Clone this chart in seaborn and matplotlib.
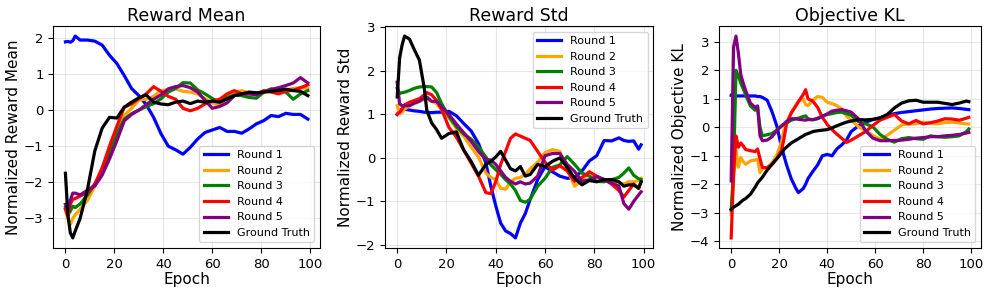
import numpy as np
import pandas as pd
import matplotlib
matplotlib.use("Agg")
import matplotlib.pyplot as plt
import seaborn as sns

series_names = ["Round 1", "Round 2", "Round 3", "Round 4", "Round 5", "Ground Truth"]
series_colors = ["blue", "orange", "green", "red", "purple", "black"]

# ---------------- Reward Mean ----------------
rm_epochs = [0, 1, 2, 3, 4, 6, 9, 12, 15, 18, 21, 24, 27, 30, 33, 36, 39, 42, 45, 48,
             51, 54, 57, 60, 63, 66, 69, 72, 75, 78, 81, 84, 87, 90, 93, 96, 99]
rm_round1 = [1.89, 1.9, 1.88, 1.92, 2.05, 1.94, 1.94, 1.91, 1.8, 1.52, 1.29, 0.96, 0.6, 0.4,
             0.15, -0.2, -0.65, -1.0, -1.1, -1.22, -1.03, -0.8, -0.62, -0.55, -0.48, -0.59,
             -0.59, -0.64, -0.52, -0.38, -0.29, -0.15, -0.18, -0.09, -0.12, -0.12, -0.25]
rm_round2 = [-2.75, -3.0, -3.17, -3.0, -2.9, -2.75, -2.5, -2.1, -1.7, -1.15, -0.55, -0.15,
             0.05, 0.28, 0.3, 0.38, 0.54, 0.56, 0.59, 0.52, 0.5, 0.45, 0.32, 0.2, 0.13, 0.35,
             0.48, 0.54, 0.47, 0.45, 0.5, 0.52, 0.54, 0.56, 0.6, 0.62, 0.6]
rm_round3 = [-2.7, -2.9, -2.8, -2.66, -2.7, -2.6, -2.35, -2.05, -1.7, -1.2, -0.65, -0.25,
             -0.1, 0.0, 0.1, 0.18, 0.31, 0.5, 0.6, 0.76, 0.75, 0.56, 0.45, 0.32, 0.22, 0.35,
             0.42, 0.4, 0.35, 0.33, 0.5, 0.59, 0.55, 0.5, 0.3, 0.45, 0.54]
rm_round4 = [-2.75, -2.94, -2.6, -2.47, -2.45, -2.38, -2.29, -2.05, -1.6, -1.0, -0.45, 0.08,
             0.17, 0.32, 0.45, 0.65, 0.52, 0.38, 0.3, 0.05, -0.02, 0.05, 0.17, 0.25, 0.3,
             0.45, 0.54, 0.45, 0.45, 0.45, 0.54, 0.5, 0.45, 0.52, 0.55, 0.62, 0.7]
rm_round5 = [-2.61, -2.8, -2.5, -2.3, -2.3, -2.35, -2.22, -2.1, -1.8, -1.35, -0.85, -0.3,
             -0.12, 0.0, 0.15, 0.3, 0.42, 0.59, 0.65, 0.68, 0.62, 0.5, 0.27, 0.05, 0.1, 0.2,
             0.4, 0.45, 0.45, 0.42, 0.5, 0.57, 0.62, 0.68, 0.75, 0.9, 0.75]
rm_truth = [-1.75, -2.9, -3.4, -3.54, -3.35, -3.0, -2.2, -1.13, -0.5, -0.2, -0.22, 0.08,
            0.22, 0.34, 0.42, 0.22, 0.17, 0.15, 0.22, 0.25, 0.18, 0.25, 0.22, 0.25, 0.22,
            0.31, 0.4, 0.45, 0.5, 0.48, 0.5, 0.52, 0.55, 0.58, 0.54, 0.52, 0.4]

# ---------------- Reward Std ----------------
rs_epochs = [0, 1, 2, 3, 5, 7, 9, 11, 12, 14, 16, 18, 21, 24, 27, 30, 33, 36, 38, 40, 42,
             44, 46, 48, 50, 52, 54, 57, 60, 63, 66, 69, 72, 75, 78, 81, 84, 87, 90, 92,
             94, 96, 98, 99]
rs_round1 = [1.0, 1.08, 1.12, 1.12, 1.1, 1.08, 1.07, 1.05, 1.05, 1.04, 1.05, 1.05, 1.07,
             0.97, 0.79, 0.62, 0.33, -0.12, -0.65, -1.1, -1.5, -1.68, -1.74, -1.84, -1.5,
             -1.28, -0.95, -0.5, -0.2, -0.32, -0.42, -0.47, -0.45, -0.3, -0.07, 0.05, 0.4,
             0.39, 0.46, 0.4, 0.38, 0.39, 0.2, 0.3]
rs_round2 = [1.2, 1.02, 1.05, 1.12, 1.2, 1.25, 1.3, 1.35, 1.35, 1.3, 1.25, 1.1, 0.92, 0.68,
             0.5, 0.25, 0.02, -0.35, -0.45, -0.5, -0.7, -0.72, -0.55, -0.47, -0.45, -0.38,
             -0.25, -0.1, 0.12, 0.19, 0.15, -0.25, -0.65, -0.52, -0.33, -0.45, -0.5, -0.55,
             -0.58, -0.6, -0.55, -0.55, -0.52, -0.47]
rs_round3 = [1.6, 1.48, 1.5, 1.51, 1.55, 1.6, 1.63, 1.64, 1.64, 1.63, 1.5, 1.25, 0.95, 0.72,
             0.55, 0.43, 0.25, 0.02, -0.16, -0.27, -0.38, -0.5, -0.6, -0.75, -0.98, -1.02,
             -0.95, -0.65, -0.47, -0.22, -0.16, 0.03, -0.15, -0.35, -0.42, -0.54, -0.55,
             -0.5, -0.45, -0.35, -0.23, -0.4, -0.48, -0.5]
rs_round4 = [1.0, 1.05, 1.12, 1.22, 1.28, 1.32, 1.36, 1.45, 1.5, 1.45, 1.32, 1.12, 0.7, 0.48,
             0.18, -0.12, -0.42, -0.8, -0.82, -0.55, -0.15, 0.15, 0.45, 0.55, 0.5, 0.45, 0.4,
             0.15, -0.1, -0.28, -0.18, -0.3, -0.54, -0.45, -0.32, -0.42, -0.5, -0.6, -0.75,
             -0.9, -0.75, -0.6, -0.7, -0.55]
rs_round5 = [1.74, 1.24, 1.2, 1.2, 1.2, 1.26, 1.3, 1.38, 1.4, 1.3, 1.3, 1.17, 1.0, 0.78,
             0.58, 0.38, 0.15, -0.04, -0.05, -0.15, -0.3, -0.45, -0.54, -0.6, -0.55, -0.6,
             -0.58, -0.42, 0.05, 0.1, 0.1, -0.15, -0.31, -0.54, -0.5, -0.43, -0.5, -0.58,
             -0.65, -1.05, -1.18, -1.0, -0.85, -0.78]
rs_truth = [1.4, 2.3, 2.6, 2.8, 2.73, 2.48, 2.25, 1.6, 1.1, 0.8, 0.65, 0.45, 0.56, 0.6,
            0.18, -0.08, -0.4, -0.15, -0.08, 0.02, 0.15, -0.05, -0.25, -0.3, -0.2, -0.42,
            -0.38, -0.15, -0.2, -0.08, 0.0, -0.22, -0.47, -0.62, -0.52, -0.55, -0.5, -0.5,
            -0.55, -0.65, -0.62, -0.62, -0.7, -0.55]

# ---------------- Objective KL ----------------
kl_epochs = [0, 1, 2, 3, 4, 5, 6, 8, 10, 11, 12, 13, 15, 17, 19, 21, 22, 23, 25, 27, 28,
             30, 31, 32, 34, 36, 38, 40, 42, 44, 46, 48, 50, 53, 56, 59, 62, 65, 68, 71,
             74, 77, 80, 83, 86, 89, 92, 95, 98, 99]
kl_round1 = [1.12, 1.1, 1.1, 1.1, 1.1, 1.1, 1.1, 1.1, 1.1, 1.08, 1.08, 1.05, 0.95, 0.55,
             0.05, -0.7, -1.0, -1.3, -1.8, -2.15, -2.29, -2.15, -2.0, -1.8, -1.55, -1.32,
             -1.0, -0.95, -1.0, -0.76, -0.62, -0.45, -0.15, 0.05, 0.18, 0.27, 0.33, 0.42,
             0.48, 0.52, 0.55, 0.58, 0.61, 0.64, 0.66, 0.67, 0.68, 0.66, 0.63, 0.62]
kl_round2 = [-3.06, -1.8, -0.8, -1.4, -1.06, -1.2, -1.3, -1.18, -1.15, -1.12, -1.59, -1.45,
             -1.41, -1.25, -0.98, -0.5, -0.1, 0.18, 0.5, 0.8, 0.9, 1.0, 0.8, 0.76, 0.95, 1.08,
             1.05, 0.88, 0.83, 0.76, 0.65, 0.4, 0.25, 0.02, -0.12, -0.29, -0.41, -0.28, -0.1,
             0.08, 0.12, 0.12, 0.18, 0.14, 0.12, 0.17, 0.18, 0.15, 0.12, 0.12]
kl_round3 = [-2.9, -1.5, 2.0, 1.8, 1.55, 1.35, 1.15, 0.75, 0.6, 0.7, 0.0, -0.3, -0.26, -0.22,
             -0.1, 0.05, 0.1, 0.15, 0.25, 0.3, 0.32, 0.38, 0.4, 0.3, 0.26, 0.32, 0.4, 0.45,
             0.48, 0.52, 0.53, 0.48, 0.42, 0.2, 0.12, 0.02, -0.25, -0.42, -0.52, -0.4, -0.36,
             -0.4, -0.42, -0.3, -0.33, -0.35, -0.33, -0.3, -0.15, -0.06]
kl_round4 = [-3.88, -1.6, -0.3, -0.7, -0.55, -0.65, -0.78, -0.82, -0.85, -0.76, -1.1, -1.41,
             -1.42, -1.3, -1.1, -0.8, -0.4, 0.1, 0.5, 0.75, 0.9, 1.15, 1.32, 1.0, 0.92, 0.7,
             0.35, 0.1, -0.08, -0.24, -0.38, -0.53, -0.45, -0.3, -0.15, 0.06, 0.25, 0.35,
             0.45, 0.22, 0.12, 0.24, 0.12, 0.16, 0.22, 0.3, 0.29, 0.25, 0.32, 0.35]
kl_round5 = [-1.88, 2.82, 3.2, 2.6, 1.85, 1.55, 1.3, 0.85, 0.7, 0.75, -0.3, -0.47, -0.45,
             -0.33, -0.12, 0.05, 0.12, 0.2, 0.3, 0.3, 0.28, 0.26, 0.25, 0.27, 0.27, 0.3, 0.38,
             0.47, 0.57, 0.6, 0.62, 0.58, 0.53, 0.3, -0.12, -0.38, -0.47, -0.47, -0.46,
             -0.45, -0.42, -0.38, -0.36, -0.33, -0.33, -0.3, -0.28, -0.25, -0.2, -0.18]
kl_truth = [-2.88, -2.8, -2.75, -2.7, -2.62, -2.55, -2.5, -2.35, -2.1, -1.95, -1.85, -1.75,
            -1.5, -1.3, -1.1, -0.9, -0.78, -0.7, -0.55, -0.45, -0.4, -0.3, -0.25, -0.22,
            -0.15, -0.12, -0.1, -0.08, -0.02, 0.05, 0.12, 0.18, 0.22, 0.27, 0.26, 0.28, 0.33,
            0.45, 0.68, 0.85, 0.93, 0.95, 0.88, 0.88, 0.88, 0.84, 0.8, 0.85, 0.92, 0.9]

panels = [
    ("Reward Mean", "Normalized Reward Mean", rm_epochs,
     [rm_round1, rm_round2, rm_round3, rm_round4, rm_round5, rm_truth], "lower right"),
    ("Reward Std", "Normalized Reward Std", rs_epochs,
     [rs_round1, rs_round2, rs_round3, rs_round4, rs_round5, rs_truth], "upper right"),
    ("Objective KL", "Normalized Objective KL", kl_epochs,
     [kl_round1, kl_round2, kl_round3, kl_round4, kl_round5, kl_truth], "lower right"),
]

positions = [
    [53.3 / 996, 1 - 248 / 295, (320 - 53.3) / 996, (248 - 26) / 295],
    [385 / 996, 1 - 248 / 295, (653.3 - 385) / 996, (248 - 26) / 295],
    [719.3 / 996, 1 - 248 / 295, (980.7 - 719.3) / 996, (248 - 26) / 295],
]

fig = plt.figure(figsize=(9.96, 2.95), dpi=100)
palette = dict(zip(series_names, series_colors))

for (title, ylabel, epochs, values, loc), pos in zip(panels, positions):
    ax = fig.add_axes(pos)
    frames = []
    for name, vals in zip(series_names, values):
        frames.append(pd.DataFrame({"Epoch": epochs, "value": vals, "series": name}))
    df = pd.concat(frames, ignore_index=True)
    sns.lineplot(data=df, x="Epoch", y="value", hue="series", hue_order=series_names,
                 palette=palette, linewidth=2.3, ax=ax, estimator=None, sort=False)
    ax.set_title(title, fontsize=12.5, pad=3.5)
    ax.set_xlabel("Epoch", fontsize=11, labelpad=1)
    ax.set_ylabel(ylabel, fontsize=11, labelpad=2)
    ax.tick_params(labelsize=9.5)
    ax.set_xticks([0, 20, 40, 60, 80, 100])
    ax.grid(True, alpha=0.3)
    ax.legend(loc=loc, fontsize=8, handlelength=2.2, borderpad=0.4, labelspacing=0.5)

fig.savefig("out.png", dpi=100)
